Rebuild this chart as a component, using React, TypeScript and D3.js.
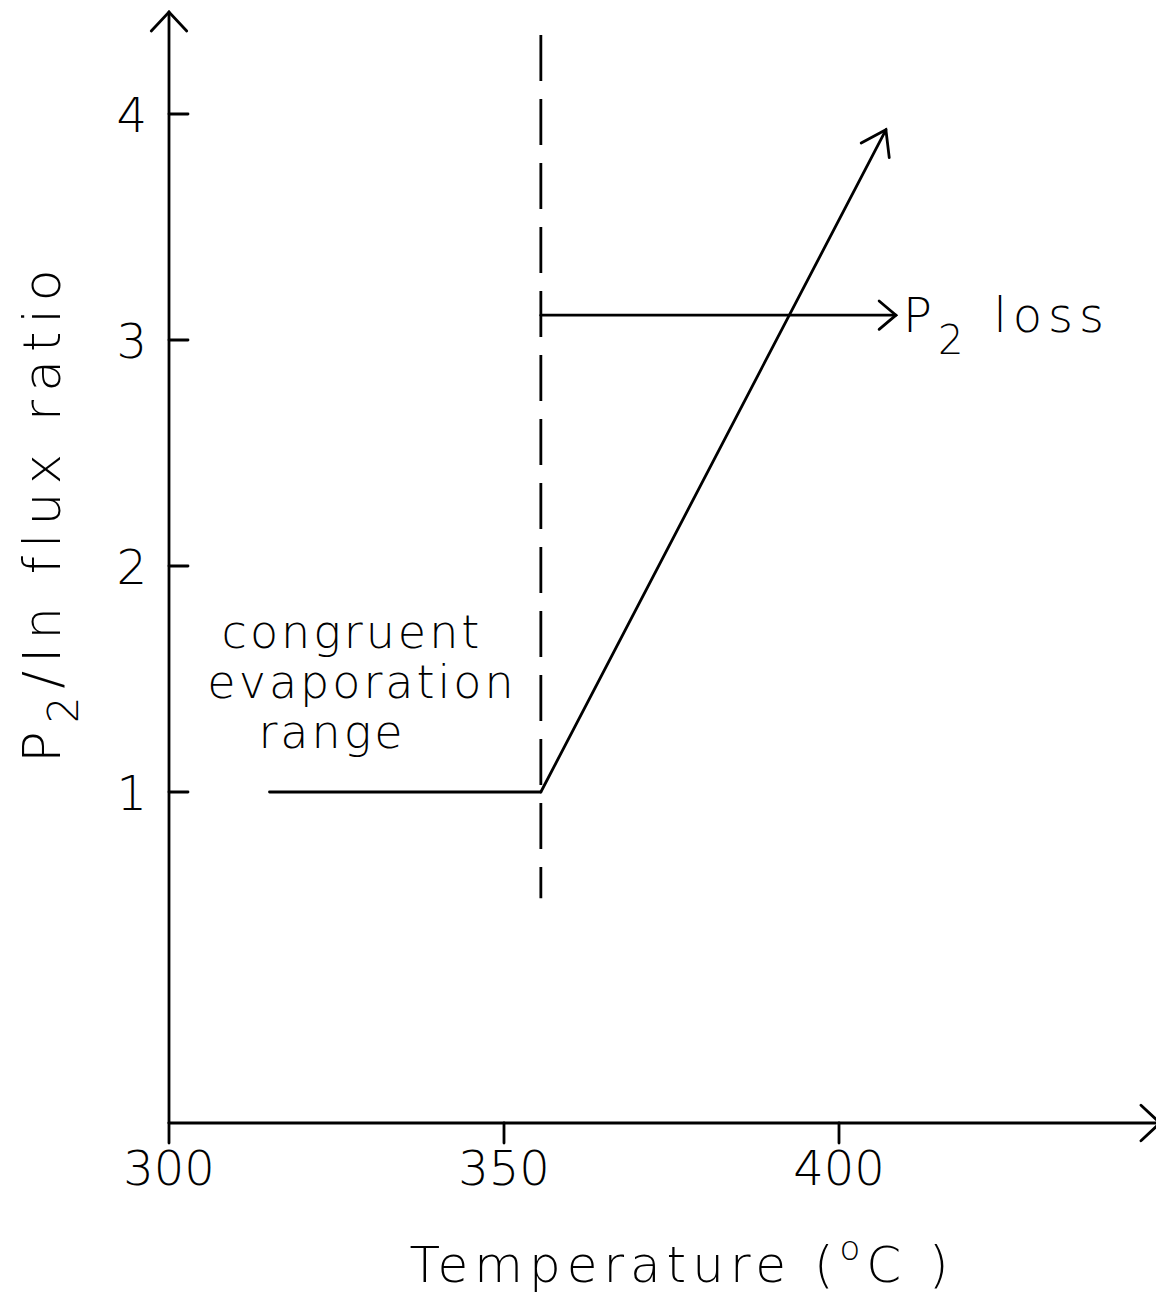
import React from 'react';
import * as d3 from 'd3';

// axis ticks
const tempTicks = [300, 350, 400];
const ratioTicks = [1, 2, 3, 4];

// congruent range (flat at ratio 1)
const congruentTemp = [315, 355.5];
const congruentRatio = [1, 1];

// P2 loss rise above the boundary
const riseTemp = [355.5, 407];
const riseRatio = [1, 3.93];

// boundary (dashed) and P2 loss marker
const boundaryTemp = 355.5;
const boundaryRatio = [0.53, 4.35];
const lossArrowTemp = [355.5, 408.5];
const lossArrowRatio = [3.11, 3.11];

const W = 1164;
const H = 1303;
const FONT = '"DejaVu Sans", "Liberation Sans", sans-serif';

const x = d3.scaleLinear().domain([300, 400]).range([169, 839]);
const y = d3.scaleLinear().domain([1, 4]).range([792, 114]);

const xEnd = x.invert(1160);
const yEnd = y.invert(12);
const y0 = y.invert(1123);

// open V arrowhead at (tx,ty) pointing along direction from (fx,fy)
function arrowHead(fx: number, fy: number, tx: number, ty: number, len: number, spread = 0.75) {
  const a = Math.atan2(ty - fy, tx - fx);
  const p1 = [tx - len * Math.cos(a - spread), ty - len * Math.sin(a - spread)];
  const p2 = [tx - len * Math.cos(a + spread), ty - len * Math.sin(a + spread)];
  return `M${p1[0]},${p1[1]}L${tx},${ty}L${p2[0]},${p2[1]}`;
}

const App = () => {
  const line = d3.line<[number, number]>().x((d) => x(d[0])).y((d) => y(d[1]));
  const flat = congruentTemp.map((t, i) => [t, congruentRatio[i]] as [number, number]);
  const rise = riseTemp.map((t, i) => [t, riseRatio[i]] as [number, number]);
  const loss = lossArrowTemp.map((t, i) => [t, lossArrowRatio[i]] as [number, number]);
  const sw = 2.8;

  return (
    <svg width={W} height={H} style={{ display: 'block', margin: '-8px', background: '#fff' }}>
      <g stroke="#000" fill="none" strokeWidth={sw} strokeLinecap="round">
        {/* axes */}
        <line x1={x(300)} y1={y(y0)} x2={x(xEnd)} y2={y(y0)} />
        <line x1={x(300)} y1={y(y0)} x2={x(300)} y2={y(yEnd)} />
        <path d={arrowHead(x(300), y(y0), x(xEnd), y(y0), 26)} />
        <path d={arrowHead(x(300), y(y0), x(300), y(yEnd), 26)} />
        {tempTicks.map((t) => (
          <line key={t} x1={x(t)} x2={x(t)} y1={y(y0)} y2={y(y0) + 20} />
        ))}
        {ratioTicks.map((r) => (
          <line key={r} x1={x(300)} x2={x(300) + 19} y1={y(r)} y2={y(r)} />
        ))}

        {/* boundary */}
        <line
          x1={x(boundaryTemp)}
          x2={x(boundaryTemp)}
          y1={y(boundaryRatio[1])}
          y2={y(boundaryRatio[0])}
          strokeDasharray="46 18"
          strokeLinecap="butt"
        />

        {/* curves */}
        <path d={line(flat) || ''} />
        <path d={line(rise) || ''} />
        <path d={arrowHead(x(rise[0][0]), y(rise[0][1]), x(rise[1][0]), y(rise[1][1]), 28, 0.6)} />
        <path d={line(loss) || ''} />
        <path d={arrowHead(x(loss[0][0]), y(loss[0][1]), x(loss[1][0]), y(loss[1][1]), 22, 0.7)} />
      </g>

      <g fontFamily={FONT} fontWeight={300} fill="#000">
        {tempTicks.map((t) => (
          <text key={t} x={x(t)} y={y(y0) + 62} fontSize={48} textAnchor="middle">
            {t}
          </text>
        ))}
        {ratioTicks.map((r) => (
          <text key={r} x={x(300) - 22} y={y(r) + 18} fontSize={48} textAnchor="end">
            {r}
          </text>
        ))}

        <text x={682} y={1282} fontSize={50} textAnchor="middle" letterSpacing={6}>
          Temperature (
          <tspan dy={-22} fontSize={34}>o</tspan>
          <tspan dy={22}>C )</tspan>
        </text>

        <text transform="translate(60,512) rotate(-90)" fontSize={52} textAnchor="middle" letterSpacing={8}>
          P<tspan dy={18} fontSize={42}>2</tspan>
          <tspan dy={-18}>/In   flux   ratio</tspan>
        </text>

        <g fontSize={46} textAnchor="middle" letterSpacing={3}>
          <text x={352} y={648}>congruent</text>
          <text x={362} y={698}>evaporation</text>
          <text x={332} y={748}>range</text>
        </g>

        <text x={903} y={332} fontSize={48} letterSpacing={6}>
          P<tspan dy={22} fontSize={40}>2</tspan>
          <tspan dy={-22} dx={24}>loss</tspan>
        </text>
      </g>
    </svg>
  );
};

export default App;
